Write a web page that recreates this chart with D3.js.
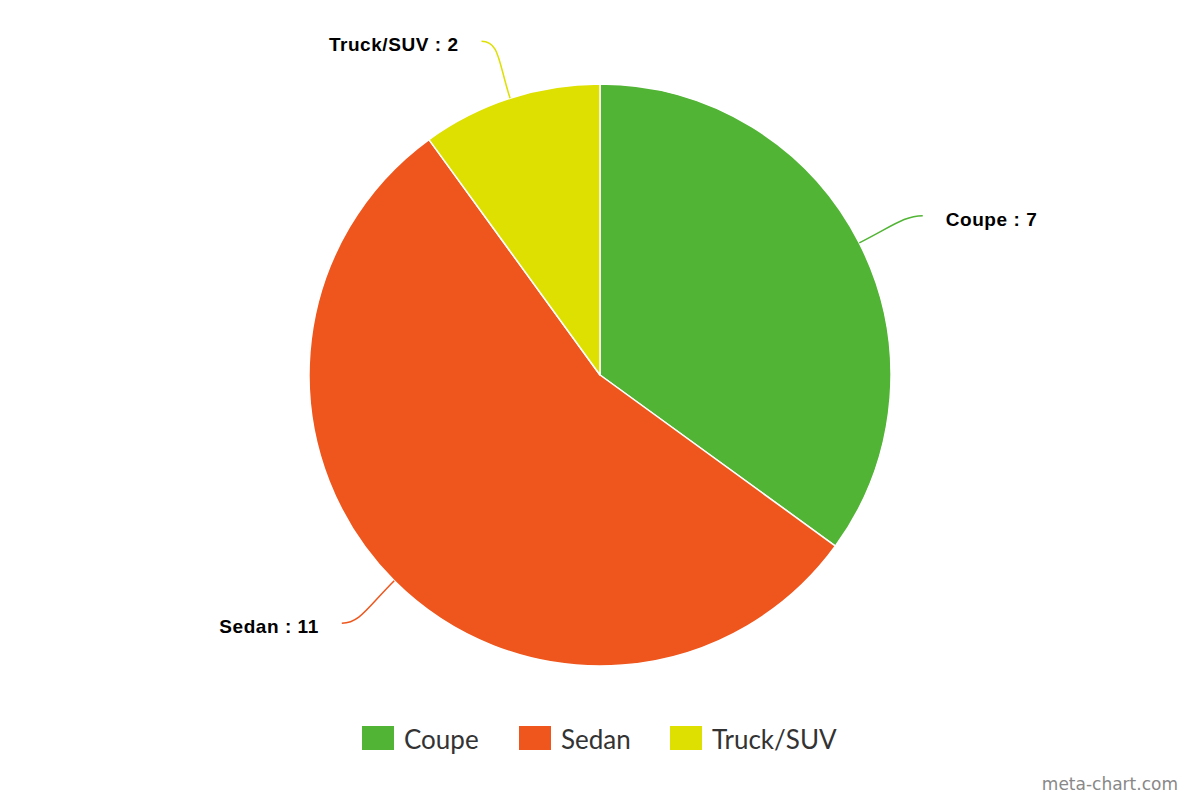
<!DOCTYPE html>
<html><head><meta charset="utf-8">
<script src="https://cdn.jsdelivr.net/npm/d3@7"></script>
<style>body{margin:0;background:#fff}svg{display:block}</style>
</head><body>
<script>
const categories = ["Coupe", "Sedan", "Truck/SUV"];
const values = [7, 11, 2];
const colors = ["#52b435", "#ee561d", "#dde000"];

const W = 1200, H = 800;
const cx = 600, cy = 375, R = 291;
const svg = d3.select("body").append("svg").attr("width", W).attr("height", H);

const data = categories.map((c, i) => ({ name: c, value: values[i], color: colors[i] }));
const pie = d3.pie().value(d => d.value).sort(null);
const arcs = pie(data);
const arc = d3.arc().innerRadius(0).outerRadius(R);

const g = svg.append("g").attr("transform", `translate(${cx},${cy})`);
g.selectAll("path.slice").data(arcs).join("path")
  .attr("class", "slice")
  .attr("d", arc)
  .attr("fill", d => d.data.color)
  .attr("stroke", "#fff").attr("stroke-width", 1.5).attr("stroke-linejoin", "round");

// connectors & labels
arcs.forEach(a => {
  const m = (a.startAngle + a.endAngle) / 2;
  const pt = r => [r * Math.sin(m), -r * Math.cos(m)];
  const p0 = pt(R);
  const p1 = pt(R + 38);
  const p2 = pt(R + 60);
  const right = Math.sin(m) >= 0;
  const dir = right ? 1 : -1;
  const p3 = [p2[0] + dir * 10, p2[1]];
  const c2 = [p2[0] - dir * 8, p2[1]];
  g.append("path")
    .attr("d", `M${p0[0]},${p0[1]} C${p1[0]},${p1[1]} ${c2[0]},${c2[1]} ${p3[0]},${p3[1]}`)
    .attr("fill", "none").attr("stroke", a.data.color).attr("stroke-width", 1.5);
  g.append("text")
    .attr("x", p3[0] + dir * 23)
    .attr("y", p3[1] + 10)
    .attr("text-anchor", right ? "start" : "end")
    .attr("font-family", "'Liberation Sans', Arial, sans-serif")
    .attr("font-weight", "bold")
    .attr("font-size", 19)
    .attr("letter-spacing", "0.55px")
    .attr("fill", "#000")
    .text(`${a.data.name} : ${a.data.value}`);
});

// legend
const legendX = [362, 519, 670];
const lg = svg.append("g");
data.forEach((d, i) => {
  lg.append("rect").attr("x", legendX[i]).attr("y", 726).attr("width", 32).attr("height", 24).attr("fill", d.color);
  lg.append("text").attr("x", legendX[i] + 42).attr("y", 749)
    .attr("font-family", "Lato, sans-serif").attr("font-size", 26).attr("fill", "#333")
    .text(d.name);
});

svg.append("text").attr("x", 1178).attr("y", 790).attr("text-anchor", "end")
  .attr("font-family", "'DejaVu Sans', sans-serif").attr("font-size", 17).attr("fill", "#888")
  .text("meta-chart.com");
</script>
</body></html>
